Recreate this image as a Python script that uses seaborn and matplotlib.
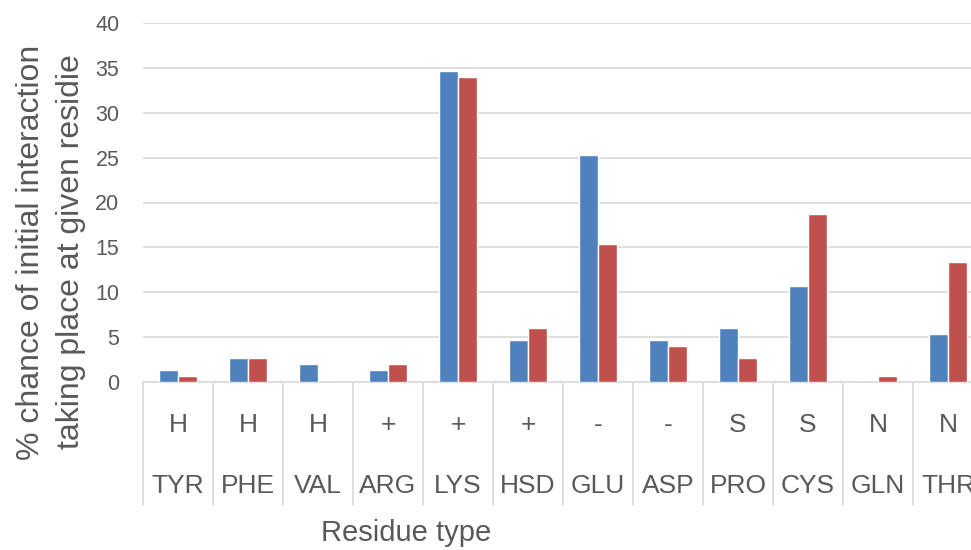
import pandas as pd
import matplotlib
matplotlib.use('Agg')
import matplotlib.pyplot as plt
import matplotlib.transforms as mtrans
import seaborn as sns

# Datos
residuos = ['TYR', 'PHE', 'VAL', 'ARG', 'LYS', 'HSD', 'GLU', 'ASP', 'PRO', 'CYS', 'GLN', 'THR']
tipos = ['H', 'H', 'H', '+', '+', '+', '-', '-', 'S', 'S', 'N', 'N']
serie_azul = [1.33, 2.67, 2.0, 1.33, 34.67, 4.67, 25.33, 4.67, 6.0, 10.67, 0.0, 5.33]
serie_roja = [0.67, 2.67, 0.0, 2.0, 34.0, 6.0, 15.33, 4.0, 2.67, 18.67, 0.67, 13.33]

df = pd.DataFrame({
    'Residuo': residuos * 2,
    'Valor': serie_azul + serie_roja,
    'Serie': ['A'] * len(residuos) + ['B'] * len(residuos),
})

sns.set_style('white')
plt.rcParams['font.family'] = ['Liberation Sans', 'DejaVu Sans']
gris = '#595959'
linea = '#D9D9D9'

fig = plt.figure(figsize=(9.71, 5.5), dpi=100)
ax = fig.add_axes([143 / 971, 1 - 382 / 550, 840 / 971, 359 / 550])

sns.barplot(data=df, x='Residuo', y='Valor', hue='Serie', order=residuos,
            palette=['#4F81BD', '#C0504D'], saturation=1, width=0.55,
            edgecolor='white', linewidth=1, legend=False, ax=ax, zorder=3)

ax.set_xlim(-0.5, len(residuos) - 0.5)
ax.set_ylim(0, 40)
ax.set_yticks(range(0, 41, 5))
ax.yaxis.grid(True, color=linea, linewidth=1.2, zorder=0)
ax.tick_params(axis='y', length=0, pad=17, labelsize=15.5, labelcolor=gris)
ax.set_xticks([])
ax.set_xlabel('')
ax.set_ylabel('')
for lado in ['left', 'right', 'top']:
    ax.spines[lado].set_visible(False)
ax.spines['bottom'].set_color(linea)
ax.spines['bottom'].set_linewidth(1.2)

# Eje de categorias en dos niveles (THR queda cortado como en el original)
trans = mtrans.blended_transform_factory(ax.transData, ax.transAxes)
for i in range(len(residuos) + 1):
    ax.plot([i - 0.5, i - 0.5], [0, -0.343], transform=trans, color=linea,
            linewidth=1.2, clip_on=False)
for i, (r, t) in enumerate(zip(residuos, tipos)):
    ax.text(i, -0.12, t, transform=trans, ha='center', va='center',
            fontsize=19, color=gris)
    ax.text(i, -0.29, r, transform=trans, ha='center', va='center',
            fontsize=19, color=gris)

fig.text(406 / 971, 1 - 533 / 550, 'Residue type', ha='center', va='center',
         fontsize=21, color=gris)
fig.text(51 / 971, 1 - 252 / 550,
         '% chance of initial interaction\ntaking place at given residie',
         rotation=90, ha='center', va='center', fontsize=23, color=gris,
         linespacing=1.45)

plt.savefig('out.png', dpi=100)
